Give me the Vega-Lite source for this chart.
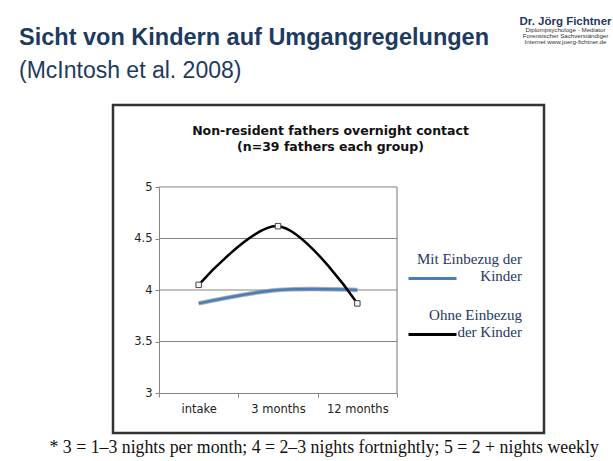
{
  "$schema": "https://vega.github.io/schema/vega-lite/v6.json",
  "width": 431,
  "height": 328,
  "autosize": {"type": "none"},
  "padding": {"left": 113, "top": 105, "right": 69, "bottom": 28},
  "background": "white",
  "config": {"view": {"stroke": "#333333", "strokeWidth": 2.5, "fill": "white"}},
  "title": {
    "text": "Sicht von Kindern auf Umgangregelungen",
    "subtitle": "(McIntosh et al. 2008)",
    "anchor": "start",
    "frame": "group",
    "dx": -94,
    "dy": 68,
    "offset": 0,
    "font": "Liberation Sans",
    "fontSize": 23.5,
    "fontWeight": "bold",
    "color": "#1d3a5f",
    "subtitleFont": "Liberation Sans",
    "subtitleFontSize": 23,
    "subtitleColor": "#1d3a5f",
    "subtitlePadding": 11
  },
  "datasets": {
    "series": [
      {"period": "intake", "group": "Mit Einbezug der Kinder", "value": 3.87},
      {"period": "3 months", "group": "Mit Einbezug der Kinder", "value": 4.0},
      {"period": "12 months", "group": "Mit Einbezug der Kinder", "value": 4.0},
      {"period": "intake", "group": "Ohne Einbezug der Kinder", "value": 4.05},
      {"period": "3 months", "group": "Ohne Einbezug der Kinder", "value": 4.62},
      {"period": "12 months", "group": "Ohne Einbezug der Kinder", "value": 3.87}
    ],
    "grid": [{"value": 3.5}, {"value": 4}, {"value": 4.5}, {"value": 5}],
    "border": [{"x": 1, "y0": 3, "y1": 5}]
  },
  "resolve": {"scale": {"x": "independent", "y": "independent"}},
  "layer": [
    {
      "data": {"name": "grid"},
      "mark": {"type": "rule", "color": "#858585", "strokeWidth": 1},
      "encoding": {
        "x": {
          "datum": 0,
          "type": "quantitative",
          "scale": {"domain": [0, 1], "range": [46, 284]},
          "axis": {
            "orient": "top",
            "domain": false,
            "ticks": false,
            "labels": false,
            "grid": false,
            "title": ["Non-resident fathers overnight contact", "(n=39 fathers each group)"],
            "titleX": 217,
            "titleY": 29,
            "titleAlign": "center",
            "titleBaseline": "alphabetic",
            "titleFont": "DejaVu Sans",
            "titleFontSize": 12.5,
            "titleFontWeight": "bold",
            "titleColor": "#111111",
            "titleLineHeight": 16
          }
        },
        "x2": {"datum": 1},
        "y": {
          "field": "value",
          "type": "quantitative",
          "scale": {"domain": [3, 5], "range": [288, 82], "nice": false, "zero": false},
          "axis": null
        }
      }
    },
    {
      "data": {"name": "border"},
      "mark": {"type": "rule", "color": "#777777", "strokeWidth": 1},
      "encoding": {
        "x": {
          "field": "x",
          "type": "quantitative",
          "scale": {"domain": [0, 1], "range": [46, 284]},
          "axis": null
        },
        "y": {
          "field": "y0",
          "type": "quantitative",
          "scale": {"domain": [3, 5], "range": [288, 82], "nice": false, "zero": false},
          "axis": {
            "orient": "right",
            "domain": false,
            "ticks": false,
            "labels": false,
            "grid": false,
            "title": ["Diplompsychologe  -  Mediator", "Forensischer Sachverständiger", "Internet www.joerg-fichtner.de"],
            "titleAngle": 0,
            "titleX": 21,
            "titleY": -74,
            "titleAlign": "center",
            "titleBaseline": "alphabetic",
            "titleFont": "Liberation Sans",
            "titleFontSize": 6.2,
            "titleFontWeight": "normal",
            "titleColor": "#333333",
            "titleLineHeight": 6
          }
        },
        "y2": {"field": "y1"}
      }
    },
    {
      "data": {"name": "series"},
      "transform": [{"filter": "datum.group == 'Mit Einbezug der Kinder'"}],
      "mark": {"type": "line", "interpolate": "catmull-rom", "color": "#8a8a8a", "strokeWidth": 4.5, "opacity": 0.7},
      "encoding": {
        "x": {
          "field": "period",
          "type": "nominal",
          "sort": ["intake", "3 months", "12 months"],
          "scale": {"type": "band", "domain": ["intake", "3 months", "12 months"], "range": [46, 284], "paddingInner": 0, "paddingOuter": 0},
          "axis": null
        },
        "y": {
          "field": "value",
          "type": "quantitative",
          "scale": {"domain": [3, 5], "range": [288, 82], "nice": false, "zero": false},
          "axis": null
        }
      }
    },
    {
      "data": {"name": "series"},
      "mark": {"type": "line", "interpolate": "catmull-rom", "strokeWidth": 2.5},
      "encoding": {
        "x": {
          "field": "period",
          "type": "nominal",
          "sort": ["intake", "3 months", "12 months"],
          "scale": {"type": "band", "domain": ["intake", "3 months", "12 months"], "range": [46, 284], "paddingInner": 0, "paddingOuter": 0},
          "axis": {
            "orient": "bottom",
            "offset": -40,
            "tickBand": "extent",
            "domainColor": "#858585",
            "tickColor": "#858585",
            "tickSize": 4,
            "labelAngle": 0,
            "labelFont": "DejaVu Sans",
            "labelFontSize": 11.5,
            "labelColor": "#222222",
            "labelPadding": 6,
            "grid": false,
            "title": "* 3 = 1–3 nights per month; 4 = 2–3 nights fortnightly; 5 = 2 + nights weekly",
            "titleX": -64,
            "titleY": 59,
            "titleAlign": "left",
            "titleBaseline": "alphabetic",
            "titleFont": "Liberation Serif",
            "titleFontSize": 17.8,
            "titleFontWeight": "normal",
            "titleColor": "#111111"
          }
        },
        "y": {
          "field": "value",
          "type": "quantitative",
          "scale": {"domain": [3, 5], "range": [288, 82], "nice": false, "zero": false},
          "axis": {
            "orient": "left",
            "offset": -46,
            "values": [3, 3.5, 4, 4.5, 5],
            "format": "~g",
            "domainColor": "#858585",
            "tickColor": "#858585",
            "tickSize": 4,
            "labelFont": "DejaVu Sans",
            "labelFontSize": 11.5,
            "labelColor": "#222222",
            "labelPadding": 3,
            "grid": false,
            "title": "Dr. Jörg Fichtner",
            "titleAngle": 0,
            "titleX": 406,
            "titleY": -81,
            "titleAlign": "center",
            "titleBaseline": "alphabetic",
            "titleFont": "Liberation Sans",
            "titleFontSize": 11.5,
            "titleFontWeight": "bold",
            "titleColor": "#1f3864"
          }
        },
        "color": {
          "field": "group",
          "type": "nominal",
          "scale": {"domain": ["Mit Einbezug der Kinder", "Ohne Einbezug der Kinder"], "range": ["#4a7ebb", "#000000"]},
          "legend": {
            "orient": "none",
            "legendX": 294,
            "legendY": 128,
            "title": null,
            "padding": 0,
            "rowPadding": 4,
            "symbolType": "M-1,0.83L1,0.83",
            "symbolSize": 2304,
            "symbolStrokeWidth": 3,
            "symbolFillColor": "transparent",
            "labelAlign": "right",
            "labelOffset": 64,
            "labelExpr": "datum.label == 'Mit Einbezug der Kinder' ? ['Mit Einbezug der', 'Kinder'] : ['Ohne Einbezug', 'der Kinder']",
            "labelFont": "Liberation Serif",
            "labelFontSize": 15,
            "labelColor": "#1f3864",
            "labelLineHeight": 20,
            "labelBaseline": "middle",
            "labelLimit": 300
          }
        }
      }
    },
    {
      "data": {"name": "series"},
      "transform": [{"filter": "datum.group == 'Ohne Einbezug der Kinder'"}],
      "mark": {"type": "point", "shape": "square", "size": 30, "filled": true, "fill": "#f4f4f4", "stroke": "#444444", "strokeWidth": 1, "opacity": 1},
      "encoding": {
        "x": {
          "field": "period",
          "type": "nominal",
          "sort": ["intake", "3 months", "12 months"],
          "scale": {"type": "band", "domain": ["intake", "3 months", "12 months"], "range": [46, 284], "paddingInner": 0, "paddingOuter": 0},
          "axis": null
        },
        "y": {
          "field": "value",
          "type": "quantitative",
          "scale": {"domain": [3, 5], "range": [288, 82], "nice": false, "zero": false},
          "axis": null
        }
      }
    }
  ]
}
